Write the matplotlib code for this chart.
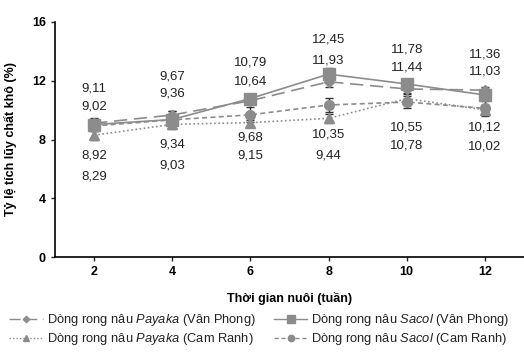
import matplotlib.pyplot as plt
from matplotlib.lines import Line2D

plt.rcParams['font.family'] = ['Liberation Sans', 'DejaVu Sans']
plt.rcParams['mathtext.fontset'] = 'custom'
plt.rcParams['mathtext.it'] = 'Liberation Sans:italic'
plt.rcParams['mathtext.rm'] = 'Liberation Sans'

tuan = ['2', '4', '6', '8', '10', '12']
payaka_vp = [9.11, 9.67, 10.64, 11.93, 11.44, 11.36]
sacol_vp = [9.02, 9.36, 10.79, 12.45, 11.78, 11.03]
payaka_cr = [8.29, 9.03, 9.15, 9.44, 10.78, 10.02]
sacol_cr = [8.92, 9.34, 9.68, 10.35, 10.55, 10.12]

err_payaka_vp = [0.3, 0.3, 0.2, 0.35, 0.3, 0.2]
err_sacol_vp = [0.45, 0.6, 0.2, 0.45, 0.3, 0.3]
err_payaka_cr = [0.3, 0.3, 0.2, 0.3, 0.3, 0.3]
err_sacol_cr = [0.3, 0.3, 0.5, 0.45, 0.4, 0.5]

# nhan so lieu tren / duoi (theo tung tuan)
nhan_tren = [('9,11', '9,02'), ('9,67', '9,36'), ('10,79', '10,64'),
             ('12,45', '11,93'), ('11,78', '11,44'), ('11,36', '11,03')]
nhan_duoi = [('8,92', '8,29'), ('9,34', '9,03'), ('9,68', '9,15'),
             ('10,35', '9,44'), ('10,55', '10,78'), ('10,12', '10,02')]
y_tren = [(11.5, 10.28), (12.32, 11.1), (13.21, 11.98),
          (14.84, 13.41), (14.16, 12.87), (13.82, 12.66)]
y_duoi = [(6.88, 5.51), (7.69, 6.26), (8.17, 6.88),
          (8.37, 6.94), (8.85, 7.62), (8.85, 7.49)]

fig = plt.figure(figsize=(5.24, 3.52), dpi=100)
ax = fig.add_axes([55 / 524, 1 - 257 / 352, 1 - 55 / 524, 235 / 352])

x = list(range(len(tuan)))
mau = '#8c8c8c'
kw = dict(color=mau, ecolor='#333333', elinewidth=1, capsize=3, capthick=1)

kieu = [
    (payaka_vp, err_payaka_vp, (0, (8, 4)), 'D', 5, 'Dòng rong nâu $\\it{Payaka}$ (Vân Phong)'),
    (sacol_vp, err_sacol_vp, '-', 's', 8, 'Dòng rong nâu $\\it{Sacol}$ (Vân Phong)'),
    (payaka_cr, err_payaka_cr, (0, (1, 1.5)), '^', 7.5, 'Dòng rong nâu $\\it{Payaka}$ (Cam Ranh)'),
    (sacol_cr, err_sacol_cr, (0, (3, 2)), 'o', 7, 'Dòng rong nâu $\\it{Sacol}$ (Cam Ranh)'),
]
handles = []
for y, e, ls, mk, ms, lab in kieu:
    ax.errorbar(x, y, yerr=e, linestyle=ls, lw=1.2, marker=mk, ms=ms, **kw)
    handles.append(Line2D([], [], color=mau, linestyle=ls, lw=1.0, marker=mk,
                          ms=ms * 0.65, label=lab))

for i in x:
    for t, yy in zip(nhan_tren[i], y_tren[i]):
        ax.text(i, yy, t, ha='center', va='center', fontsize=9.5, color='#222222')
    for t, yy in zip(nhan_duoi[i], y_duoi[i]):
        ax.text(i, yy, t, ha='center', va='center', fontsize=9.5, color='#222222')

ax.set_xlim(-0.5, 5.5)
ax.set_ylim(0, 16)
ax.set_yticks([0, 4, 8, 12, 16])
ax.set_xticks(x)
ax.set_xticklabels(tuan, fontweight='bold', fontsize=9)
for lb in ax.get_yticklabels():
    lb.set_fontweight('bold')
    lb.set_fontsize(9)
ax.tick_params(length=3, width=1, color='#222222')
ax.spines['top'].set_visible(False)
ax.spines['right'].set_visible(False)
ax.spines['left'].set_linewidth(1.2)
ax.spines['bottom'].set_linewidth(1.2)

ax.set_ylabel('Tỷ lệ tích lũy chất khô (%)', fontweight='bold', fontsize=9, labelpad=11)
ax.set_xlabel('Thời gian nuôi (tuần)', fontweight='bold', fontsize=9, labelpad=10)

h = [handles[0], handles[2], handles[1], handles[3]]
fig.legend(handles=h, loc='lower center', bbox_to_anchor=(0.495, -0.02), ncol=2,
           frameon=False, fontsize=9.3, handlelength=2.6, columnspacing=1.4,
           handletextpad=0.3, labelspacing=0.25, labelcolor='#222222')

fig.savefig('out.png', dpi=100)
